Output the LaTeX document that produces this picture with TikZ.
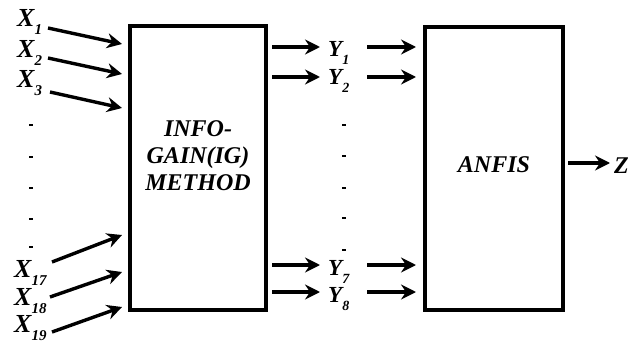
\documentclass[tikz,border=0pt]{standalone}
\usepackage{fontspec}
\setmainfont{Liberation Serif}
\usetikzlibrary{arrows.meta}
\tikzset{
  blk/.style={draw, line width=3.2pt},
  arr/.style={line width=3.4pt, -{Stealth[length=15pt,width=15pt,inset=5pt]}},
  lbl/.style={font=\fontsize{26}{26}\selectfont\bfseries\itshape, inner sep=0pt, anchor=base west},
  ylbl/.style={font=\fontsize{23}{23}\selectfont\bfseries\itshape, inner sep=0pt, anchor=base west},
  boxtxt/.style={font=\fontsize{24}{27}\selectfont\bfseries\itshape, align=center, inner sep=0pt},
  dotm/.style={inner sep=0pt, fill=black, minimum width=4.5pt, minimum height=2.5pt}
}
\newcommand{\sbx}[1]{\raisebox{-8pt}{\fontsize{15}{15}\selectfont #1}}
\newcommand{\sby}[1]{\raisebox{-8pt}{\fontsize{14}{14}\selectfont #1}}
\begin{document}
\begin{tikzpicture}[x=1pt,y=-1pt]
\useasboundingbox (0,0) rectangle (634,350);
% boxes
\draw[blk] (130,26) rectangle (266,310);
\draw[blk] (425,27) rectangle (563,310);
\node[boxtxt] (ig) at (198,156) {INFO-\\GAIN(IG)\\METHOD};
\node[boxtxt] (anfis) at (494,165) {ANFIS};
% X labels
\node[lbl] (x1) at (17,27) {X\sbx{1}};
\node[lbl] (x2) at (17,58) {X\sbx{2}};
\node[lbl] (x3) at (17,88) {X\sbx{3}};
\node[lbl] (x17) at (14,277) {X\sbx{17}};
\node[lbl] (x18) at (14,305) {X\sbx{18}};
\node[lbl] (x19) at (14,332) {X\sbx{19}};
% arrow endpoints
\coordinate (a1s) at (48,28); \coordinate (a1e) at (122,44);
\coordinate (a2s) at (48,58); \coordinate (a2e) at (122,74);
\coordinate (a3s) at (50,92); \coordinate (a3e) at (122,108);
\coordinate (a17s) at (52,262); \coordinate (a17e) at (122,235);
\coordinate (a18s) at (50,297); \coordinate (a18e) at (122,272);
\coordinate (a19s) at (52,332); \coordinate (a19e) at (122,307);
\draw[arr] (a1s) -- (a1e);
\draw[arr] (a2s) -- (a2e);
\draw[arr] (a3s) -- (a3e);
\draw[arr] (a17s) -- (a17e);
\draw[arr] (a18s) -- (a18e);
\draw[arr] (a19s) -- (a19e);
% left dots
\foreach \yy [count=\i] in {125,157,188,219,247} {
  \node[dotm] (ld\i) at (31,\yy) {};
}
% Y labels
\node[ylbl] (y1) at (328,57) {Y\sby{1}};
\node[ylbl] (y2) at (328,85) {Y\sby{2}};
\node[ylbl] (y7) at (328,275) {Y\sby{7}};
\node[ylbl] (y8) at (328,302) {Y\sby{8}};
\foreach \yy [count=\i] in {125,156,188,218,250} {
  \node[dotm] (md\i) at (344,\yy) {};
}
% Y arrows
\foreach \yy/\n in {47/1,77/2,265/7,292/8} {
  \coordinate (bl\n) at (272,\yy); \coordinate (br\n) at (320,\yy);
  \coordinate (cl\n) at (367,\yy); \coordinate (cr\n) at (416,\yy);
  \draw[arr] (bl\n) -- (br\n);
  \draw[arr] (cl\n) -- (cr\n);
}
% Z
\coordinate (zs) at (568,163); \coordinate (ze) at (610,163);
\draw[arr] (zs) -- (ze);
\node[lbl, font=\fontsize{24}{24}\selectfont\bfseries\itshape] (z) at (614,173) {Z};
\end{tikzpicture}
\end{document}
